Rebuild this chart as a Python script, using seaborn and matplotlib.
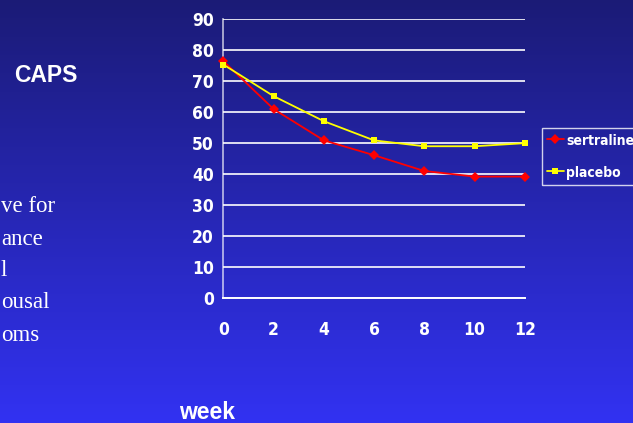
import numpy as np
import pandas as pd
import matplotlib
matplotlib.use("Agg")
import matplotlib.pyplot as plt
import seaborn as sns

# CAPS total score by study week
weeks = [0, 2, 4, 6, 8, 10, 12]
sertraline = [76.5, 61.0, 50.9, 46.1, 41.0, 39.2, 39.2]
placebo = [75.4, 65.2, 57.1, 50.9, 49.0, 49.0, 50.0]
y_ticks = [0, 10, 20, 30, 40, 50, 60, 70, 80, 90]
side_lines = ["ve for", "ance", "l", "ousal", "oms"]

df = pd.DataFrame({
    "week": weeks * 2,
    "score": sertraline + placebo,
    "group": ["sertraline"] * len(weeks) + ["placebo"] * len(weeks),
})

sns.set_theme(style="white")
narrow = ["Liberation Sans Narrow", "DejaVu Sans"]
plt.rcParams["font.family"] = ["Liberation Sans", "DejaVu Sans"]

fig = plt.figure(figsize=(6.33, 4.23), dpi=100)

# slide background: vertical navy-to-blue gradient
bg = fig.add_axes([0, 0, 1, 1], zorder=-10)
grad = np.linspace(0, 1, 256).reshape(-1, 1)
top = np.array([27, 27, 118]) / 255
bottom = np.array([50, 50, 242]) / 255
img = top + (bottom - top) * grad[..., None]
bg.imshow(img, aspect="auto", extent=[0, 1, 0, 1])
bg.set_axis_off()

ax = fig.add_axes([0.353, 0.296, 0.476, 0.658])
ax.patch.set_alpha(0)

sns.lineplot(
    data=df, x="week", y="score", hue="group", style="group",
    palette={"sertraline": "#ff0000", "placebo": "#ffff00"},
    markers={"sertraline": "D", "placebo": "s"},
    dashes=False, markersize=5, linewidth=1.3, markeredgewidth=0,
    ax=ax, clip_on=False, zorder=5,
)

ax.set_xlim(0, 12)
ax.set_ylim(0, 90)
ax.set_xticks(weeks)
ax.set_yticks(y_ticks)
ax.grid(axis="y", color="white", alpha=0.85, linewidth=1.4)
ax.grid(axis="x", visible=False)
for s in ["top", "right"]:
    ax.spines[s].set_visible(False)
ax.spines["left"].set_color((1, 1, 1, 0.7))
ax.spines["left"].set_linewidth(1.2)
ax.spines["bottom"].set_color("white")
ax.spines["bottom"].set_linewidth(1.4)
ax.tick_params(axis="both", which="both", direction="out", length=4,
               width=1.2, colors="white", labelcolor="white")
ax.tick_params(axis="x", pad=13)
ax.tick_params(axis="y", pad=3)
for lab in ax.get_xticklabels() + ax.get_yticklabels():
    lab.set_family(narrow)
    lab.set_fontweight("bold")
    lab.set_fontstretch("condensed")
    lab.set_fontsize(12.5)
ax.set_xlabel("")
ax.set_ylabel("")

leg = ax.legend(loc="upper left", frameon=True,
                prop={"family": narrow, "weight": "bold", "size": 10,
                      "stretch": "condensed"},
                handlelength=1.2, handletextpad=0.2, borderpad=0.35,
                labelspacing=1.2, handleheight=1.3, borderaxespad=0)
leg.set_bbox_to_anchor((542 / 633, 1 - 128 / 423), transform=fig.transFigure)
leg.get_frame().set_facecolor("none")
leg.get_frame().set_edgecolor("white")
leg.get_frame().set_linewidth(1.0)
leg.get_frame().set_boxstyle("square", pad=0)
for t in leg.get_texts():
    t.set_color("white")

fig.text(46 / 633, 1 - 75 / 423, "CAPS", color="white", fontsize=16.5,
         fontweight="bold", ha="center", va="center")
fig.text(207 / 633, 1 - 412 / 423, "week", color="white", fontsize=16.5,
         fontweight="bold", ha="center", va="center")

line_ys = [207, 239, 270, 302, 335]
for txt, yc in zip(side_lines, line_ys):
    fig.text(1 / 633, 1 - yc / 423, txt, color="white", fontsize=16.5,
             family=["Liberation Serif", "DejaVu Serif"], ha="left", va="center")

fig.savefig("out.png", dpi=100)
